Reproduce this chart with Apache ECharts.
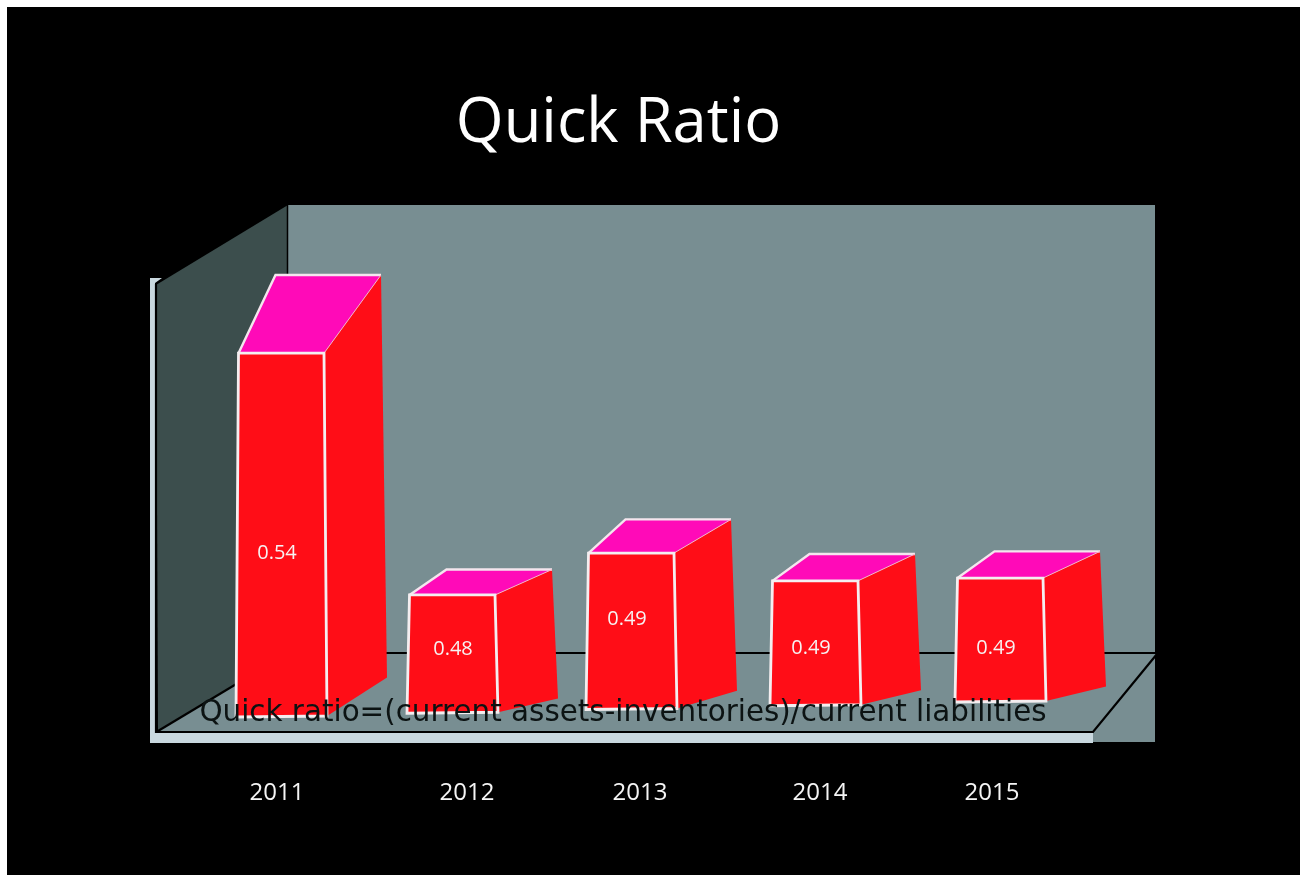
<!DOCTYPE html>
<html>
<head>
<meta charset="utf-8">
<style>html,body{margin:0;padding:0;background:#fff;overflow:hidden}#c{width:1300px;height:875px}</style>
<script src="https://cdn.jsdelivr.net/npm/echarts@6/dist/echarts.min.js"></script>
</head>
<body>
<div id="c"></div>
<script>
// Data
const categories = ['2011', '2012', '2013', '2014', '2015'];
const ratioHeights = [0.54, 0.48, 0.4904, 0.4835, 0.4842];
const ratioLabels = ['0.54', '0.48', '0.49', '0.49', '0.49'];
const titleText = 'Quick Ratio';
const noteText = 'Quick ratio=(current assets-inventories)/current liabilities';

// Layout tweaks of the hand-drawn 3D look (pixels)
const barNudge = [-1, -10, -11, -7, -2];
const labelNudgeX = [-4, 1, -4, -4, -4];
const labelNudgeY = [18, -5, -12, 5, 8];
const tickShift = [-5, 5, -2, -2, -10];
const floorY = 717, floorTilt = 3.75;

const chart = echarts.init(document.getElementById('c'), null, {renderer: 'canvas'});

function renderBar(params, api) {
  const i = params.dataIndex;
  const p = api.coord([i, api.value(1)]);
  const cx = p[0] + barNudge[i];
  const topY = p[1];
  const botL = floorY - floorTilt * i;
  const h = botL - topY;
  const rise = 0.215 * h;
  const sideRise = 0.1 * h;
  const TL = [cx - 42.5, topY], TR = [cx + 43, topY];
  const BL = [cx - 45, botL], BR = [cx + 46, botL - 1];
  const bTL = [TL[0] + 37, topY - rise], bTR = [TR[0] + 57, topY - rise];
  const bBR = [BR[0] + 60, BR[1] - sideRise - 2];
  return {type: 'group', children: [
    {type: 'polygon', shape: {points: [TR, bTR, bBR, BR]}, style: {fill: '#ff0d17'}},
    {type: 'polygon', shape: {points: [TL, bTL, bTR, TR]}, style: {fill: '#ff0ab8'}},
    {type: 'polyline', shape: {points: [TL, bTL, bTR]}, style: {fill: null, stroke: '#f4e6ee', lineWidth: 2.4}},
    {type: 'line', shape: {x1: TR[0], y1: TR[1], x2: bTR[0], y2: bTR[1]}, style: {stroke: '#f6b6c8', lineWidth: 1}},
    {type: 'polygon', shape: {points: [TL, TR, BR, BL]},
     style: {fill: '#ff0d17', stroke: '#f4eef0', lineWidth: 2.8, lineJoin: 'miter'}},
    {type: 'text', x: cx + labelNudgeX[i], y: (topY + botL) / 2 + labelNudgeY[i],
     style: {text: ratioLabels[i], fill: '#f7f2f2', fontSize: 20, fontFamily: 'Open Sans',
             align: 'center', verticalAlign: 'middle'}}
  ]};
}

const tickData = categories.map((c, i) => ({
  value: c,
  textStyle: {padding: tickShift[i] > 0 ? [0, 0, 0, tickShift[i] * 2] : [0, -tickShift[i] * 2, 0, 0]}
}));

chart.setOption({
  animation: false,
  backgroundColor: '#ffffff',
  title: [
    {text: titleText, left: 613.5, top: 88, textAlign: 'center',
     textStyle: {color: '#ffffff', fontSize: 61.5, fontWeight: 'normal', fontFamily: 'Open Sans'}},
    {text: noteText, left: 618, top: 694, textAlign: 'center', z: 20,
     textStyle: {color: '#0c1313', fontSize: 29.4, fontWeight: 'normal', fontFamily: 'DejaVu Sans'}}
  ],
  grid: {left: 192, width: 900, top: 192, height: 544},
  xAxis: {
    type: 'category', data: tickData,
    axisLine: {show: false}, axisTick: {show: false},
    axisLabel: {color: '#f5f5f5', fontSize: 24, fontFamily: 'Open Sans', margin: 45, interval: 0}
  },
  yAxis: {type: 'value', min: 0.445, max: 0.58, show: false, splitLine: {show: false}},
  graphic: {elements: [
    {type: 'rect', z: 0, shape: {x: 7, y: 7, width: 1293, height: 868}, style: {fill: '#000000'}},
    // back wall and floor
    {type: 'rect', z: 1, shape: {x: 288, y: 205, width: 867, height: 537}, style: {fill: '#788e92'}},
    {type: 'polygon', z: 1, shape: {points: [[158, 731], [288, 653], [1157, 653], [1093, 731], [1093, 742], [158, 742]]}, style: {fill: '#788e92'}},
    // side wall
    {type: 'polygon', z: 1, shape: {points: [[156, 285], [288, 205], [288, 653], [158, 731]]}, style: {fill: '#3c4e4d'}},
    // light base strips
    {type: 'polygon', z: 1, shape: {points: [[150, 278], [162, 278], [155, 283], [155, 733], [1093, 733], [1093, 743], [150, 743]]}, style: {fill: '#c9d8df'}},
    // black edges
    {type: 'polyline', z: 1, shape: {points: [[156, 284], [156, 732], [1093, 732], [1157, 654]]}, style: {stroke: '#000', lineWidth: 2.2, fill: null}},
    {type: 'line', z: 1, shape: {x1: 158, y1: 731, x2: 288, y2: 653}, style: {stroke: '#000', lineWidth: 2.2}},
    {type: 'line', z: 1, shape: {x1: 288, y1: 653, x2: 1157, y2: 653}, style: {stroke: '#000', lineWidth: 2.2}},
    {type: 'line', z: 1, shape: {x1: 287.5, y1: 205, x2: 287.5, y2: 653}, style: {stroke: '#000', lineWidth: 1.5}}
  ]},
  series: [{
    type: 'custom',
    z: 5,
    clip: false,
    renderItem: renderBar,
    encode: {x: 0, y: 1},
    data: ratioHeights.map((v, i) => [i, v])
  }]
});
</script>
</body>
</html>
